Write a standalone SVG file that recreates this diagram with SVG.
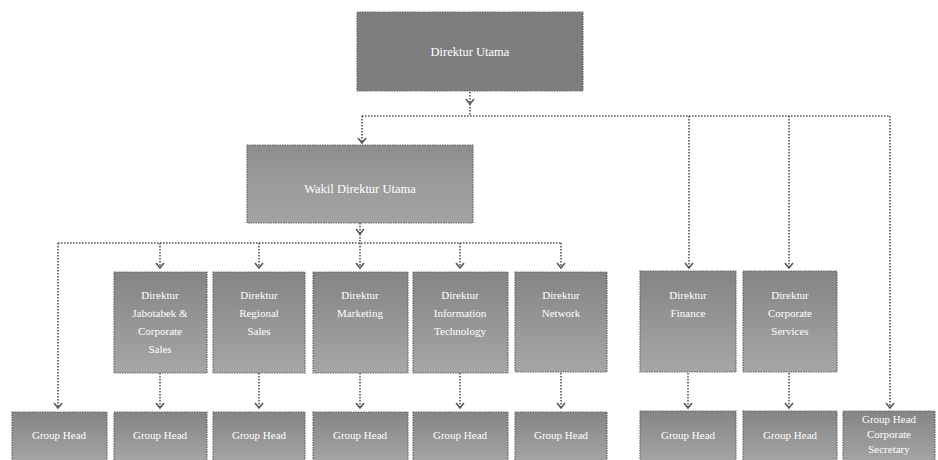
<svg xmlns="http://www.w3.org/2000/svg" width="938" height="460" viewBox="0 0 938 460">
<defs>
<linearGradient id="g1" x1="0" y1="0" x2="0" y2="1">
<stop offset="0" stop-color="#858585"/>
<stop offset="1" stop-color="#a6a6a6"/>
</linearGradient>
<linearGradient id="g2" x1="0" y1="0" x2="0" y2="1">
<stop offset="0" stop-color="#8e8e8e"/>
<stop offset="0.45" stop-color="#9a9a9a"/>
<stop offset="1" stop-color="#a3a3a3"/>
</linearGradient>
<marker id="ah" markerWidth="10" markerHeight="10" refX="8" refY="5" orient="auto" markerUnits="userSpaceOnUse" viewBox="0 0 10 10">
<path d="M3,1 L8,5 L3,9" fill="none" stroke="#555" stroke-width="1.5"/>
</marker>
</defs>
<style>
.box{fill:url(#g1);stroke:#666;stroke-width:1.2;stroke-dasharray:1.5 1}
.boxt{fill:#7e7e7e;stroke:#666;stroke-width:1.2;stroke-dasharray:1.5 1}
.boxw{fill:url(#g2);stroke:#666;stroke-width:1.2;stroke-dasharray:1.5 1}
.c{fill:none;stroke:#555;stroke-width:1.6;stroke-dasharray:1.6 1.4}
.a{marker-end:url(#ah)}
text{font-family:"Liberation Serif","DejaVu Serif",serif;fill:#fff;font-size:11px;text-anchor:middle}
.big{font-size:12.5px}
</style>
<rect width="938" height="460" fill="#fff"/>
<g id="connectors">
<path class="c a" d="M470,92 V104"/>
<path class="c" d="M470,104 V116 M362,116 H890"/>
<path class="c a" d="M362,116 V143"/>
<path class="c a" d="M689,116 V268"/>
<path class="c a" d="M789,116 V268"/>
<path class="c a" d="M890,116 V408"/>
<path class="c a" d="M360,223 V234"/>
<path class="c" d="M360,234 V243 M58,243 H562"/>
<path class="c a" d="M58,243 V408"/>
<path class="c a" d="M160,243 V268"/>
<path class="c a" d="M259,243 V268"/>
<path class="c a" d="M360,243 V268"/>
<path class="c a" d="M460,243 V268"/>
<path class="c a" d="M561,243 V268"/>
<path class="c a" d="M160,373 V408"/>
<path class="c a" d="M259,373 V408"/>
<path class="c a" d="M360,373 V408"/>
<path class="c a" d="M460,373 V408"/>
<path class="c a" d="M561,373 V408"/>
<path class="c a" d="M688,373 V408"/>
<path class="c a" d="M789,373 V408"/>
</g>
<g id="dirut"><rect class="boxt" x="357" y="12" width="226" height="79"/><text class="big" x="470" y="56">Direktur Utama</text></g>
<g id="wadirut"><rect class="boxw" x="247" y="145" width="226" height="78"/><text class="big" x="360" y="193">Wakil Direktur Utama</text></g>
<g id="dir1"><rect class="box" x="114" y="272" width="93" height="101"/><text x="160" y="299">Direktur</text><text x="160" y="317">Jabotabek &amp;</text><text x="160" y="335">Corporate</text><text x="160" y="353">Sales</text></g>
<g id="dir2"><rect class="box" x="213" y="272" width="92" height="101"/><text x="259" y="299">Direktur</text><text x="259" y="317">Regional</text><text x="259" y="335">Sales</text></g>
<g id="dir3"><rect class="box" x="313" y="272" width="95" height="101"/><text x="360" y="299">Direktur</text><text x="360" y="317">Marketing</text></g>
<g id="dir4"><rect class="box" x="413" y="272" width="95" height="101"/><text x="460" y="299">Direktur</text><text x="460" y="317">Information</text><text x="460" y="335">Technology</text></g>
<g id="dir5"><rect class="box" x="515" y="272" width="92" height="100"/><text x="561" y="299">Direktur</text><text x="561" y="317">Network</text></g>
<g id="dir6"><rect class="box" x="640" y="271" width="96" height="101"/><text x="688" y="299">Direktur</text><text x="688" y="317">Finance</text></g>
<g id="dir7"><rect class="box" x="743" y="271" width="94" height="101"/><text x="790" y="299">Direktur</text><text x="790" y="317">Corporate</text><text x="790" y="335">Services</text></g>
<g id="gh0"><rect class="box" x="12" y="412" width="95" height="52"/><text x="59" y="439">Group Head</text></g>
<g id="gh1"><rect class="box" x="114" y="412" width="93" height="52"/><text x="160" y="439">Group Head</text></g>
<g id="gh2"><rect class="box" x="213" y="412" width="92" height="52"/><text x="259" y="439">Group Head</text></g>
<g id="gh3"><rect class="box" x="313" y="412" width="95" height="52"/><text x="360" y="439">Group Head</text></g>
<g id="gh4"><rect class="box" x="413" y="412" width="95" height="52"/><text x="460" y="439">Group Head</text></g>
<g id="gh5"><rect class="box" x="515" y="412" width="92" height="52"/><text x="561" y="439">Group Head</text></g>
<g id="gh6"><rect class="box" x="640" y="411" width="96" height="53"/><text x="688" y="439">Group Head</text></g>
<g id="gh7"><rect class="box" x="743" y="411" width="94" height="53"/><text x="790" y="439">Group Head</text></g>
<g id="gh8"><rect class="box" x="843" y="411" width="92" height="53"/><text x="889" y="423">Group Head</text><text x="889" y="438">Corporate</text><text x="889" y="453">Secretary</text></g>
</svg>
